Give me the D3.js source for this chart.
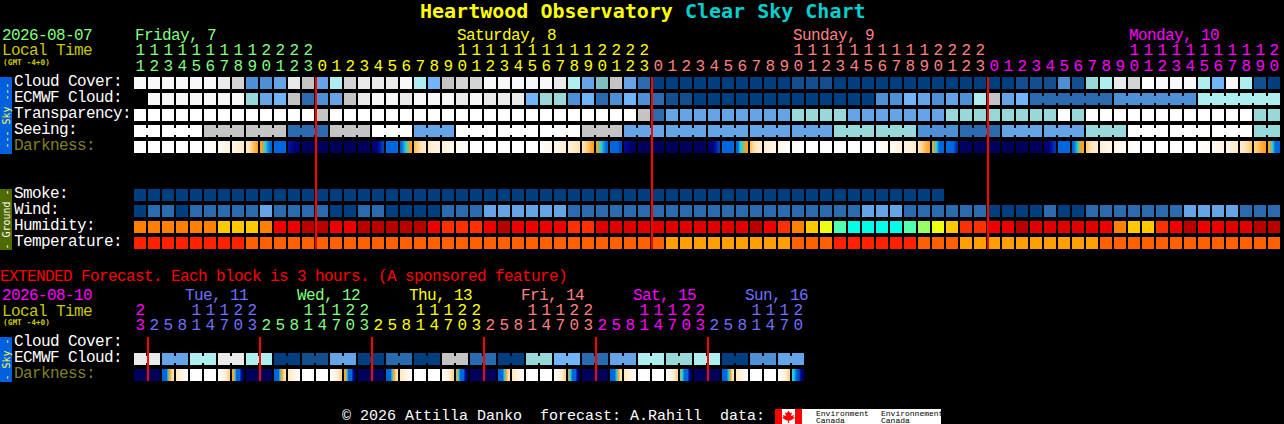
<!DOCTYPE html>
<html><head><meta charset="utf-8">
<script src="https://cdn.jsdelivr.net/npm/d3@7/dist/d3.min.js"></script>
<style>
html,body{margin:0;padding:0;background:#000;overflow:hidden}
svg{display:block}
text{font-family:"Liberation Mono","DejaVu Sans Mono",monospace;white-space:pre}
text.body{letter-spacing:-.6px}
text.heavy{font-family:"DejaVu Sans Mono","Liberation Mono",monospace}
</style></head><body>
<script>
// ---------- colour levels ----------
const skyColors=["#003f7f","#134f8f","#2a6aae","#4e90d5","#65a4e6","#72b4fa","#7fbfbf","#99d8d8","#aeeeee","#c4c4c4","#d4d4d4","#eaeaea","#f8f8f8","#ffffff"];
const humidityColors=["#b80000","#e00000","#ee0000","#ff3000","#ff8000","#ffc800","#eeff10","#99ff66","#50ffb0","#00ffe8"];
const temperatureColors=["#ffa000","#ff6000","#ff2000"];
const darknessColors=["#ffffff","#fff2dc","#ffe2b0","#ffc060","#ffa020","#20d0e0","#0066dd","#0040b0","#0010a0","#000080","#00005a"];

// ---------- main forecast (one value per hour) ----------
const hours=[11,12,13,14,15,16,17,18,19,20,21,22,23,
 0,1,2,3,4,5,6,7,8,9,10,11,12,13,14,15,16,17,18,19,20,21,22,23,
 0,1,2,3,4,5,6,7,8,9,10,11,12,13,14,15,16,17,18,19,20,21,22,23,
 0,1,2,3,4,5,6,7,8,9,10,11,12,13,14,15,16,17,18,19,20];
const dayColors=["#80ff80","#ffff00","#ff8080","#ff00ff"];
const dayLabels=["Friday, 7","Saturday, 8","Sunday, 9","Monday, 10"];
const dayLabelCols=[0,23,47,71];
const midnightCols=[13,37,61];

const cloudCover=[12,12,12,12,12,12,11,10,3,3,
 4,11,9,4,8,10,11,11,11,12,
 8,5,9,10,10,12,12,12,12,12,
 11,8,4,6,9,4,2,0,0,0,
 0,0,0,0,0,0,0,1,1,1,
 0,0,0,0,0,0,0,0,0,0,
 0,0,0,1,1,1,3,1,7,8,
 11,10,13,12,12,12,8,5,12,8,
 1,0];
const ecmwfCloud=[null,12,12,12,12,12,12,12,7,4,
 5,9,2,3,4,9,11,12,12,11,
 12,12,12,11,12,11,11,11,5,7,
 7,3,5,2,3,5,3,2,1,1,
 0,0,0,0,0,0,0,0,0,0,
 0,0,0,3,3,5,4,3,4,3,
 8,9,4,5,2,2,2,2,2,2,
 3,3,3,3,3,3,8,8,8,8,
 8,8];
const ecmwfRuns=[[64,69],[70,75],[76,81]];
const transparency=[13,13,13,13,13,13,13,13,13,13,
 13,13,13,9,13,13,13,13,13,13,
 13,13,13,13,13,13,13,13,13,13,
 13,13,13,13,13,13,9,2,4,4,
 4,4,4,4,4,4,4,7,7,7,
 7,4,4,4,4,4,4,4,7,7,
 7,7,7,7,7,7,13,7,13,13,
 13,13,13,13,13,13,13,13,13,13,
 7,7];
const seeing=[13,13,13,13,13,9,9,9,9,9,
 9,2,2,2,9,9,9,13,13,13,
 4,4,4,13,13,13,13,13,13,13,
 13,13,9,9,9,4,4,4,4,4,
 4,4,4,4,4,4,4,4,4,4,
 7,7,7,7,7,7,3,3,3,2,
 2,2,4,4,4,4,4,4,7,7,
 7,13,13,13,13,13,13,13,13,13,
 7,7];
const seeingRuns=[[0,1],[2,4],[5,7],[8,10],[11,13],[14,16],[17,19],[20,22],[23,25],[26,28],[29,31],[32,34],[35,37],[38,40],[41,43],[44,46],[47,49],[50,52],[53,55],[56,58],[59,61],[62,64],[65,67],[68,70],[71,73],[74,76],[77,79],[80,81]];
// darkness: four readings across each hour block
const W=[0,0,0,0], N=[10,10,10,10], B=[6,6,6,6];
const darkness=[W,W,W,W,W,[.1,.2,.3,.4],[.4,.6,.7,.8],[.8,1,1.3,1.4],[1.6,2.2,3,3.8],[4,4.7,5.5,6],
 B,[8,8.7,9.3,9.7],N,N,N,N,N,[9.5,9,8,7],B,[6,5.3,4.6,4],
 [3,2.4,1.8,1.6],[1.5,1.2,1,.9],[1,.8,.6,.5],[.5,.3,.2,.1],W,W,W,W,W,[.1,.3,.5,.6],
 [.6,.8,1,1.2],[1.2,1.4,1.7,2],[2,2.6,3.2,4],[4.2,4.8,5.5,6],[6,6,6,6.8],[8.5,9,9.5,10],N,N,N,N,
 N,[9.5,9,8,7],B,[6,5,4.5,4],[2.8,2,1.6,1.4],[1.2,1,.8,.6],[.6,.4,.2,.1],[.2,.1,0,0],W,W,
 W,W,W,[.1,.2,.3,.4],[.4,.6,.7,.8],[.9,1,1.2,1.4],[2,2.6,3.2,3.8],[4.2,5,6,6],[6,6,6,7.5],[9.5,9.7,10,10],
 N,N,N,N,N,[9.5,9,8,7.2],B,[6,5.3,4.3,4],[2.6,2,1.6,1.4],[1.2,1,.8,.8],
 [.7,.5,.4,.3],[.3,.1,0,0],W,W,W,W,[0,.1,.2,.3],[.4,.6,.7,.8],[.8,1,1.3,1.4],[1.5,1.8,2.2,2.6],
 [2.6,3,3.6,4],[4,5,6,6]];

const smoke=[0,0,0,0,0,0,0,0,0,0,0,0,0,0,0,0,0,0,0,0,0,0,0,0,0,0,0,0,0,0,0,0,0,0,0,0,0,0,0,0,0,0,0,0,0,0,0,0,0,0,0,0,0,0,0,0,0,0];
const wind=[0,2,2,0,2,2,2,2,2,4,
 2,2,2,2,0,0,2,2,0,0,
 0,0,2,2,2,4,4,4,4,4,
 4,2,2,2,2,2,2,2,2,2,
 2,2,2,2,2,2,2,2,2,2,
 2,2,4,4,4,2,2,2,2,2,
 2,0,0,0,0,2,0,0,2,2,
 2,2,2,2,2,4,4,4,4,2,
 2,2];
const humidity=[4,4,4,4,4,4,5,5,5,4,
 2,2,0,0,2,2,0,0,0,0,
 0,2,3,3,3,2,0,2,2,2,
 2,3,3,1,1,1,1,1,1,1,
 1,1,1,1,0,2,3,4,5,6,
 8,9,9,9,9,8,7,6,5,3,
 3,2,2,0,1,1,1,1,1,2,
 4,5,5,3,2,0,2,2,1,1,
 0,0];
const temperature=[2,2,2,2,2,2,2,2,1,1,
 1,1,1,1,1,1,1,1,1,1,
 1,1,1,1,1,1,1,1,1,1,
 1,1,1,1,1,1,1,1,0,0,
 0,0,0,0,0,0,0,1,1,1,
 2,2,2,2,2,2,1,1,1,0,
 0,0,0,0,0,0,0,0,0,1,
 1,1,1,1,1,1,1,1,1,1,
 1,1];

// ---------- extended forecast (one value per 3 hours) ----------
const extHours=[23,2,5,8,11,14,17,20,23,2,5,8,11,14,17,20,23,2,5,8,11,14,17,20,23,2,5,8,11,14,17,20,23,2,5,8,11,14,17,20,23,2,5,8,11,14,17,20];
const extDayColors=["#ff00ff","#7070ff","#80ff80","#ffff00","#ff8080","#ff00ff","#7070ff"];
const extDayLabels=["Tue, 11","Wed, 12","Thu, 13","Fri, 14","Sat, 15","Sun, 16"];
const extDayLabelCols=[3,11,19,27,35,43];
const extMidnightCols=[1,9,17,25,33,41];
const extEcmwf=[11,11,4,4,8,8,11,11,8,8,0,0,1,1,4,4,0,0,2,2,0,0,9,9,2,2,0,0,7,7,5,5,2,2,4,4,8,8,7,7,8,8,0,0,3,3,4,4];
const extEcmwfRuns=[[0,1],[2,3],[4,5],[6,7],[8,9],[10,11],[12,13],[14,15],[16,17],[18,19],[20,21],[22,23],[24,25],[26,27],[28,29],[30,31],[32,33],[34,35],[36,37],[38,39],[40,41],[42,43],[44,45],[46,47]];
const extDarkness=[N,N,[6,6,4,2],[1.5,1,.6,.2],W,W,[.3,.7,1.2,2.4],[3.9,6,6,9.6],
 N,N,[6,6,4,2],[1.5,1,.6,.2],W,W,[.3,.7,1.2,2.4],[3.9,6,6,9.6],
 N,N,[6,6,4.2,2],[1.5,1,.6,.2],W,W,[.3,.7,1.2,2.4],[4.3,6,6,9.6],
 N,N,[6,6,4.4,2],[1.5,1,.6,.2],W,W,[.3,.7,1.2,2.4],[4.4,6,6,9.6],
 N,N,[6,6,4.6,2],[1.5,1,.6,.2],W,W,[.3,.7,1.2,2.4],[4.6,6,6,9.6],
 N,N,[6,6,4.7,2],[1.5,1,.6,.2],W,W,[.3,.7,1.2,2.4],[5,6,7,9.6]];
const extDarkRuns=[[0,1],[8,9],[16,17],[24,25],[32,33],[40,41]];

// ---------- labels ----------
const skyLabels=["Cloud Cover:","ECMWF Cloud:","Transparency:","Seeing:","Darkness:"];
const groundLabels=["Smoke:","Wind:","Humidity:","Temperature:"];
const extLabels=["Cloud Cover:","ECMWF Cloud:","Darkness:"];

// ---------- scales ----------
const CW=12, STEP=14, X0=134, FS=16;
const bandOf=(n)=>d3.scaleBand().domain(d3.range(n)).range([X0,X0+n*STEP-(STEP-CW)]).paddingInner((STEP-CW)/STEP);
const xMain=bandOf(hours.length), xExt=bandOf(extHours.length);
const rowBand=(rows,top)=>d3.scaleBand().domain(rows).range([top,top+rows.length*16-4]).paddingInner(4/16);
const ySky=rowBand(skyLabels,77), yGround=rowBand(groundLabels,189), yExt=rowBand(extLabels,337);
const skyScale=d3.scaleOrdinal(d3.range(skyColors.length),skyColors);
const humScale=d3.scaleOrdinal(d3.range(humidityColors.length),humidityColors);
const tempScale=d3.scaleOrdinal(d3.range(temperatureColors.length),temperatureColors);
const darkScale=d3.scaleLinear().domain(d3.range(darknessColors.length)).range(darknessColors).interpolate(d3.interpolateRgb);

const svg=d3.select("body").append("svg").attr("width",1284).attr("height",424).attr("viewBox","0 0 1284 424");
svg.append("rect").attr("width",1284).attr("height",424).attr("fill","#000");

function text(x,y,s,fill){
  return svg.append("text").attr("class","body").attr("x",x).attr("y",y).attr("fill",fill).attr("font-size",FS).text(s);
}
function blocks(values,x,y,color,runs){
  const g=svg.append("g").attr("shape-rendering","crispEdges");
  g.selectAll("rect.b").data(values.map((v,i)=>({v,i})).filter(d=>d.v!==null)).join("rect")
    .attr("class","b").attr("x",d=>x(d.i)).attr("y",y).attr("width",x.bandwidth()).attr("height",CW).attr("fill",d=>color(d.v));
  if(runs){
    const joins=[];
    runs.forEach(([a,b])=>{for(let i=a;i<b;i++)joins.push(i);});
    g.selectAll("rect.j").data(joins).join("rect").attr("class","j")
      .attr("x",i=>x(i)+x.bandwidth()).attr("y",y+3).attr("width",x.step()-x.bandwidth()).attr("height",CW-5).attr("fill",i=>color(values[i]));
  }
}
function darkBlocks(values,x,y,runs){
  const g=svg.append("g").attr("shape-rendering","crispEdges");
  values.forEach((samples,i)=>{
    const pos=d3.scaleLinear().domain(samples.map((_,k)=>(k+.5)*CW/samples.length)).range(samples).clamp(true);
    d3.range(CW).forEach(px=>{
      g.append("rect").attr("x",x(i)+px).attr("y",y).attr("width",1).attr("height",CW).attr("fill",darkScale(pos(px+.5)));
    });
  });
  (runs||[]).forEach(([a,b])=>{
    for(let i=a;i<b;i++) g.append("rect").attr("x",x(i)+x.bandwidth()).attr("y",y).attr("width",x.step()-x.bandwidth()).attr("height",CW).attr("fill",darkScale(values[i][3]));
  });
}
function hourLabels(list,x,colors,yTens,yUnits){
  let day=0;
  list.forEach((h,i)=>{
    if(i>0&&h<list[i-1])day++;
    const cx=x(i)+x.bandwidth()/2;
    if(h>=10)text(cx,yTens,String(Math.floor(h/10)),colors[day]).attr("text-anchor","middle");
    text(cx,yUnits,String(h%10),colors[day]).attr("text-anchor","middle");
  });
}
function redLines(cols,x,y1,y2){
  svg.append("g").attr("shape-rendering","crispEdges").selectAll("rect").data(cols).join("rect")
    .attr("x",c=>x(c)-1).attr("y",y1).attr("width",2).attr("height",y2-y1).attr("fill","#ff0000");
}
function sideBar(top,bottom,fill,label,color){
  svg.append("rect").attr("x",0).attr("y",top).attr("width",12).attr("height",bottom-top).attr("fill",fill).attr("shape-rendering","crispEdges");
  const cy=(top+bottom)/2;
  svg.append("text").attr("class","heavy").attr("transform",`translate(9.5,${cy}) rotate(-90)`).attr("text-anchor","middle").attr("fill",color).attr("font-size",10).text(label);
}

// ---------- title ----------
const title=svg.append("text").attr("class","heavy").attr("x",420).attr("y",18).attr("fill","#ffff00").attr("font-size",20).attr("font-weight","bold").text("Heartwood Observatory ");
title.append("tspan").attr("fill","#00d0d0").text("Clear Sky Chart");

// ---------- main header ----------
text(2,39.5,"2026-08-07","#80ff80");
text(2,55,"Local Time","#c8c800");
const gmt=(y)=>svg.append("text").attr("class","heavy").attr("x",3).attr("y",y).attr("fill","#c8c800").attr("font-size",7.8).attr("font-weight","bold").text("(GMT -4+0)");
gmt(65);
dayLabels.forEach((s,i)=>text(xMain(dayLabelCols[i])+1,39.5,s,dayColors[i]));
hourLabels(hours,xMain,dayColors,55,71);

// ---------- main rows ----------
sideBar(77,154,"#0060e0","--- Sky ---","#ffff40");
skyLabels.forEach((s,i)=>text(14,ySky(s)+8.5,s,i===4?"#808020":"#ffffff"));
blocks(cloudCover,xMain,ySky(skyLabels[0]),skyScale);
blocks(ecmwfCloud,xMain,ySky(skyLabels[1]),skyScale,ecmwfRuns);
blocks(transparency,xMain,ySky(skyLabels[2]),skyScale);
blocks(seeing,xMain,ySky(skyLabels[3]),skyScale,seeingRuns);
darkBlocks(darkness,xMain,ySky(skyLabels[4]));

sideBar(189,250,"#4f6a00","- Ground -","#ffffff");
groundLabels.forEach(s=>text(14,yGround(s)+8.5,s,"#ffffff"));
blocks(smoke,xMain,yGround(groundLabels[0]),skyScale);
blocks(wind,xMain,yGround(groundLabels[1]),skyScale);
blocks(humidity,xMain,yGround(groundLabels[2]),humScale);
blocks(temperature,xMain,yGround(groundLabels[3]),tempScale);
redLines(midnightCols,xMain,77,249);

// ---------- extended ----------
text(0,281,"EXTENDED Forecast. Each block is 3 hours. (A sponsored feature)","#ff0000");
text(2,300,"2026-08-10","#ff00ff");
text(2,315.5,"Local Time","#c8c800");
gmt(325);
extDayLabels.forEach((s,i)=>text(xExt(extDayLabelCols[i])+9,300,s,extDayColors[i+1]));
hourLabels(extHours,xExt,extDayColors,315,330);
sideBar(337,382,"#0060e0","- Sky -","#ffff40");
extLabels.forEach((s,i)=>text(14,yExt(s)+8.5,s,i===2?"#808020":"#ffffff"));
blocks(extEcmwf,xExt,yExt(extLabels[1]),skyScale,extEcmwfRuns);
darkBlocks(extDarkness,xExt,yExt(extLabels[2]),extDarkRuns);
redLines(extMidnightCols,xExt,337,381);

// ---------- footer ----------
svg.append("text").attr("x",342).attr("y",419.5).attr("fill","#ffffff").attr("font-size",15).text("\u00a9 2026 Attilla Danko  forecast: A.Rahill  data:");
const logo=svg.append("g").attr("transform","translate(775,409)");
logo.append("rect").attr("width",166).attr("height",15).attr("fill","#fff");
logo.append("rect").attr("width",7).attr("height",15).attr("fill","#ff0000");
logo.append("rect").attr("x",20).attr("width",7).attr("height",15).attr("fill","#ff0000");
logo.append("path").attr("d","M13.5 1.5 L15 4 L17 3.5 L16 7 L19 6 L18.5 8 L20 8.8 L15.5 11.5 L14 11.5 L14 14 L13 14 L13 11.5 L11.5 11.5 L7 8.8 L8.5 8 L8 6 L11 7 L10 3.5 L12 4 Z").attr("fill","#ff0000");
[[41,"Environment"],[106,"Environnement"]].forEach(([x,s])=>{
  logo.append("text").attr("x",x).attr("y",6.5).attr("font-family","'Liberation Sans',sans-serif").attr("font-size",8).attr("fill","#000").text(s);
  logo.append("text").attr("x",x).attr("y",14).attr("font-family","'Liberation Sans',sans-serif").attr("font-size",8).attr("fill","#000").text("Canada");
});
</script>
</body></html>
